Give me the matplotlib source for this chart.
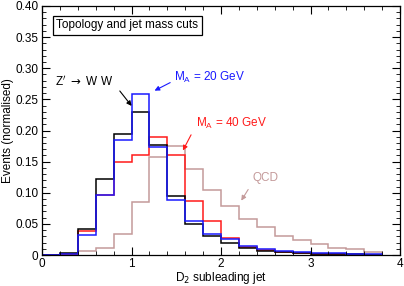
import matplotlib
matplotlib.use("Agg")
import matplotlib.pyplot as plt
import numpy as np
from matplotlib.ticker import MultipleLocator, FuncFormatter

plt.rcParams['font.family'] = ['Liberation Sans', 'DejaVu Sans']

bin_edges = [0.0, 0.2, 0.4, 0.6, 0.8, 1.0, 1.2, 1.4, 1.6, 1.8, 2.0,
             2.2, 2.4, 2.6, 2.8, 3.0, 3.2, 3.4, 3.6, 3.8]

zprime_ww = [0.0, 0.003, 0.0415, 0.122, 0.194, 0.229, 0.177, 0.0955, 0.0505,
             0.031, 0.020, 0.012, 0.0065, 0.005, 0.003, 0.002, 0.0015, 0.001, 0.0008]
ma20 = [0.0, 0.002, 0.032, 0.096, 0.184, 0.258, 0.174, 0.089, 0.055,
        0.034, 0.026, 0.0144, 0.009, 0.0064, 0.005, 0.003, 0.0025, 0.0016, 0.0016]
ma40 = [0.0, 0.002, 0.038, 0.096, 0.150, 0.161, 0.189, 0.160, 0.087,
        0.055, 0.028, 0.013, 0.008, 0.005, 0.003, 0.0016, 0.001, 0.0008, 0.0005]
qcd = [0.0, 0.002, 0.0064, 0.0106, 0.034, 0.085, 0.157, 0.175, 0.138,
       0.104, 0.078, 0.0585, 0.045, 0.031, 0.024, 0.0176, 0.012, 0.009, 0.005]

qcd_colour = '#c49a9a'
red = '#ff1a1a'
blue = '#1a1aff'

fig = plt.figure(figsize=(4.04, 2.86), dpi=100)
ax = fig.add_axes([42 / 404, 31 / 286, 358 / 404, 249 / 286])

ax.stairs(qcd, bin_edges, color=qcd_colour, lw=1.1)
ax.stairs(ma40, bin_edges, color=red, lw=1.1)
ax.stairs(zprime_ww, bin_edges, color='black', lw=1.1)
ax.stairs(ma20, bin_edges, color=blue, lw=1.1)

ax.set_xlim(0, 4)
ax.set_ylim(0, 0.40)
ax.xaxis.set_major_locator(MultipleLocator(1))
ax.xaxis.set_minor_locator(MultipleLocator(0.2))
ax.yaxis.set_major_locator(MultipleLocator(0.05))
ax.yaxis.set_minor_locator(MultipleLocator(0.01))
ax.yaxis.set_major_formatter(FuncFormatter(lambda v, p: '0' if abs(v) < 1e-9 else '%.2f' % v))
ax.tick_params(which='both', direction='in', top=True, right=True, labelsize=8.5, pad=2.5)
ax.tick_params(which='major', length=6, width=0.8)
ax.tick_params(which='minor', length=3, width=0.6)
for s in ax.spines.values():
    s.set_linewidth(0.9)

ax.set_xlabel('D$_2$ subleading jet', fontsize=8.5, labelpad=0)
ax.set_ylabel('Events (normalised)', fontsize=8.5, labelpad=1)

ax.text(0.16, 0.369, 'Topology and jet mass cuts', fontsize=8.5, va='center', ha='left',
        bbox=dict(boxstyle='square,pad=0.3', fc='white', ec='black', lw=0.9))

ax.text(0.15, 0.278, "Z$'$ $\\rightarrow$ W W", fontsize=8.5, ha='left', va='center')
ax.annotate('', xy=(1.02, 0.236), xytext=(0.85, 0.267),
            arrowprops=dict(arrowstyle='-|>', color='black', lw=0.8, mutation_scale=7))

ax.text(1.47, 0.286, 'M$_\\mathregular{A}$ = 20 GeV', color=blue, fontsize=8.5,
        ha='left', va='center')
ax.annotate('', xy=(1.23, 0.262), xytext=(1.46, 0.279),
            arrowprops=dict(arrowstyle='-|>', color=blue, lw=0.8, mutation_scale=7))

ax.text(1.72, 0.212, 'M$_\\mathregular{A}$ = 40 GeV', color=red, fontsize=8.5,
        ha='left', va='center')
ax.annotate('', xy=(1.56, 0.164), xytext=(1.68, 0.197),
            arrowprops=dict(arrowstyle='-|>', color=red, lw=0.8, mutation_scale=7))

ax.text(2.35, 0.124, 'QCD', color=qcd_colour, fontsize=8.5, ha='left', va='center')
ax.annotate('', xy=(2.21, 0.0836), xytext=(2.32, 0.109),
            arrowprops=dict(arrowstyle='-|>', color=qcd_colour, lw=0.8, mutation_scale=7))

fig.savefig('out.png', dpi=100)
